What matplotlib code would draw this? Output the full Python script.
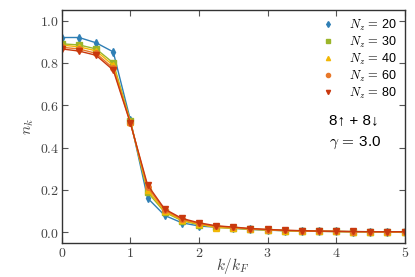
import matplotlib as mpl
mpl.use("Agg")
import numpy as np
import matplotlib.pyplot as plt

mpl.rcParams['mathtext.fontset'] = 'cm'
mpl.rcParams['font.family'] = ['Liberation Sans', 'DejaVu Sans']

k = np.arange(21) * 0.25

n20 = [0.92, 0.92, 0.895, 0.852, 0.530, 0.162, 0.080, 0.045, 0.030, 0.024, 0.019,
       0.014, 0.010, 0.008, 0.006, 0.005, 0.004, 0.003, 0.003, 0.002, 0.002]
n30 = [0.890, 0.885, 0.866, 0.800, 0.525, 0.190, 0.095, 0.055, 0.036, 0.026, 0.020,
       0.015, 0.011, 0.008, 0.006, 0.005, 0.004, 0.003, 0.003, 0.002, 0.002]
n40 = [0.884, 0.876, 0.857, 0.788, 0.521, 0.200, 0.100, 0.058, 0.039, 0.022, 0.020,
       0.015, 0.011, 0.008, 0.006, 0.005, 0.004, 0.003, 0.003, 0.002, 0.002]
n60 = [0.874, 0.866, 0.845, 0.775, 0.518, 0.214, 0.105, 0.062, 0.042, 0.029, 0.024,
       0.017, 0.013, 0.009, 0.007, 0.005, 0.004, 0.003, 0.003, 0.002, 0.002]
n80 = [0.866, 0.856, 0.836, 0.766, 0.515, 0.224, 0.110, 0.066, 0.045, 0.031, 0.025,
       0.018, 0.014, 0.010, 0.008, 0.006, 0.005, 0.004, 0.003, 0.003, 0.003]

sizes = [20, 30, 40, 60, 80]
series = [n20, n30, n40, n60, n80]
colors = ['#2f7fb5', '#9bb52a', '#f2b705', '#e8782a', '#c9380e']
markers = ['d', 's', '^', 'o', 'v']

fig = plt.figure(figsize=(4.15, 2.77), dpi=100)
ax = fig.add_axes([0.149, 0.123, 0.826, 0.841])

for N, n, c, m in zip(sizes, series, colors, markers):
    ax.plot(k, n, color=c, lw=1.0, marker=m, ms=4, mec=c, mfc=c,
            label=r'$N_z\,=\,$' + f'{N}')

# legend with markers only
handles, labels = ax.get_legend_handles_labels()
leg_h = [plt.Line2D([], [], ls='none', marker=m, color=c, ms=3)
         for c, m in zip(colors, markers)]
leg = ax.legend(leg_h, labels, loc='upper right', frameon=False, numpoints=1,
                fontsize=9, handletextpad=1.3, labelspacing=0.15,
                borderaxespad=0.2, handlelength=0.8)

ax.text(0.78, 0.528, '8↑ + 8↓', transform=ax.transAxes, fontsize=11, va='center')
ax.text(0.78, 0.43, r'$\gamma\,=\,$' + '3.0', transform=ax.transAxes,
        fontsize=11, va='center')

ax.set_xlim(0, 5)
ax.set_ylim(-0.05, 1.05)
ax.set_xticks(range(6))
ax.set_xticklabels([f'${i}$' for i in range(6)])
yt = [0.0, 0.2, 0.4, 0.6, 0.8, 1.0]
ax.set_yticks(yt)
ax.set_yticklabels([f'${v:.1f}$' for v in yt])
ax.tick_params(direction='in', top=True, right=True, labelsize=10, length=4,
               color='#555555', pad=2)
for s in ax.spines.values():
    s.set_color('#333333')
    s.set_linewidth(1.0)
ax.tick_params(axis='both', labelcolor='#444444')

ax.set_xlabel(r'$k/k_F$', fontsize=11, color='#444444')
ax.set_ylabel(r'$n_k$', fontsize=11, color='#444444')
ax.xaxis.set_label_coords(0.5, -0.058)
ax.yaxis.set_label_coords(-0.075, 0.5)

plt.savefig('out.png', dpi=100)
